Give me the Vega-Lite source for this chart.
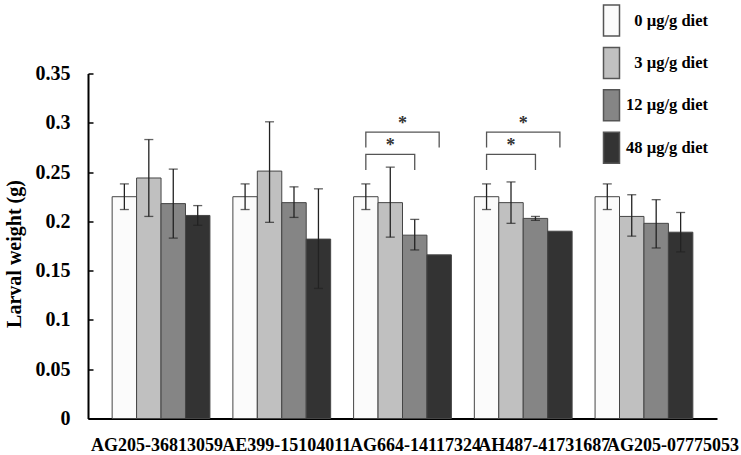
{
  "$schema": "https://vega.github.io/schema/vega-lite/v6.json",
  "width": 629,
  "height": 345,
  "autosize": {"type": "none"},
  "padding": {"left": 88, "top": 73.5, "right": 24, "bottom": 36.5},
  "background": "#ffffff",
  "config": {
    "view": {"stroke": null},
    "font": "Liberation Serif"
  },
  "datasets": {
    "bars": [
      {"gene": "AG205-36813059", "dose": "0 µg/g diet", "w": 0.225, "lo": 0.212, "hi": 0.238},
      {"gene": "AG205-36813059", "dose": "3 µg/g diet", "w": 0.244, "lo": 0.205, "hi": 0.283},
      {"gene": "AG205-36813059", "dose": "12 µg/g diet", "w": 0.218, "lo": 0.183, "hi": 0.253},
      {"gene": "AG205-36813059", "dose": "48 µg/g diet", "w": 0.206, "lo": 0.196, "hi": 0.216},
      {"gene": "AE399-15104011", "dose": "0 µg/g diet", "w": 0.225, "lo": 0.212, "hi": 0.238},
      {"gene": "AE399-15104011", "dose": "3 µg/g diet", "w": 0.251, "lo": 0.199, "hi": 0.301},
      {"gene": "AE399-15104011", "dose": "12 µg/g diet", "w": 0.219, "lo": 0.204, "hi": 0.235},
      {"gene": "AE399-15104011", "dose": "48 µg/g diet", "w": 0.182, "lo": 0.132, "hi": 0.233},
      {"gene": "AG664-14117324", "dose": "0 µg/g diet", "w": 0.225, "lo": 0.212, "hi": 0.238},
      {"gene": "AG664-14117324", "dose": "3 µg/g diet", "w": 0.219, "lo": 0.184, "hi": 0.255},
      {"gene": "AG664-14117324", "dose": "12 µg/g diet", "w": 0.186, "lo": 0.171, "hi": 0.202},
      {"gene": "AG664-14117324", "dose": "48 µg/g diet", "w": 0.166, "lo": null, "hi": null},
      {"gene": "AH487-41731687", "dose": "0 µg/g diet", "w": 0.225, "lo": 0.212, "hi": 0.238},
      {"gene": "AH487-41731687", "dose": "3 µg/g diet", "w": 0.219, "lo": 0.198, "hi": 0.240},
      {"gene": "AH487-41731687", "dose": "12 µg/g diet", "w": 0.203, "lo": 0.201, "hi": 0.205},
      {"gene": "AH487-41731687", "dose": "48 µg/g diet", "w": 0.190, "lo": null, "hi": null},
      {"gene": "AG205-07775053", "dose": "0 µg/g diet", "w": 0.225, "lo": 0.212, "hi": 0.238},
      {"gene": "AG205-07775053", "dose": "3 µg/g diet", "w": 0.205, "lo": 0.185, "hi": 0.227},
      {"gene": "AG205-07775053", "dose": "12 µg/g diet", "w": 0.198, "lo": 0.173, "hi": 0.222},
      {"gene": "AG205-07775053", "dose": "48 µg/g diet", "w": 0.189, "lo": 0.169, "hi": 0.209}
    ],
    "brackets": [
      {"b": "g3a", "gene": "AG664-14117324", "dose": "0 µg/g diet", "y": 0.252, "ord": 1},
      {"b": "g3a", "gene": "AG664-14117324", "dose": "0 µg/g diet", "y": 0.268, "ord": 2},
      {"b": "g3a", "gene": "AG664-14117324", "dose": "12 µg/g diet", "y": 0.268, "ord": 3},
      {"b": "g3a", "gene": "AG664-14117324", "dose": "12 µg/g diet", "y": 0.252, "ord": 4},
      {"b": "g3b", "gene": "AG664-14117324", "dose": "0 µg/g diet", "y": 0.275, "ord": 1},
      {"b": "g3b", "gene": "AG664-14117324", "dose": "0 µg/g diet", "y": 0.2905, "ord": 2},
      {"b": "g3b", "gene": "AG664-14117324", "dose": "48 µg/g diet", "y": 0.2905, "ord": 3},
      {"b": "g3b", "gene": "AG664-14117324", "dose": "48 µg/g diet", "y": 0.275, "ord": 4},
      {"b": "g4a", "gene": "AH487-41731687", "dose": "0 µg/g diet", "y": 0.252, "ord": 1},
      {"b": "g4a", "gene": "AH487-41731687", "dose": "0 µg/g diet", "y": 0.268, "ord": 2},
      {"b": "g4a", "gene": "AH487-41731687", "dose": "12 µg/g diet", "y": 0.268, "ord": 3},
      {"b": "g4a", "gene": "AH487-41731687", "dose": "12 µg/g diet", "y": 0.252, "ord": 4},
      {"b": "g4b", "gene": "AH487-41731687", "dose": "0 µg/g diet", "y": 0.275, "ord": 1},
      {"b": "g4b", "gene": "AH487-41731687", "dose": "0 µg/g diet", "y": 0.2905, "ord": 2},
      {"b": "g4b", "gene": "AH487-41731687", "dose": "48 µg/g diet", "y": 0.2905, "ord": 3},
      {"b": "g4b", "gene": "AH487-41731687", "dose": "48 µg/g diet", "y": 0.275, "ord": 4}
    ],
    "starsLow": [
      {"gene": "AG664-14117324", "dose": "3 µg/g diet", "y": 0.2785, "t": "*"},
      {"gene": "AH487-41731687", "dose": "3 µg/g diet", "y": 0.2785, "t": "*"}
    ],
    "starsHigh": [
      {"gene": "AG664-14117324", "y": 0.3008, "t": "*"},
      {"gene": "AH487-41731687", "y": 0.3008, "t": "*"}
    ]
  },
  "layer": [
    {
      "data": {"name": "bars"},
      "mark": {"type": "bar", "stroke": "#454545", "strokeWidth": 1},
      "encoding": {
        "x": {
          "field": "gene", "type": "nominal",
          "scale": {"domain": ["AG205-36813059", "AE399-15104011", "AG664-14117324", "AH487-41731687", "AG205-07775053"], "paddingInner": 0.19, "paddingOuter": 0.2},
          "axis": {
            "title": null,
            "ticks": false,
            "domainColor": "#000000",
            "domainWidth": 2,
            "labelFont": "Liberation Serif",
            "labelFontSize": 18,
            "labelFontWeight": "bold",
            "labelColor": "#000000",
            "labelAngle": 0,
            "labelPadding": 18,
            "labelLimit": 0,
            "labelOverlap": false,
            "labelBound": false,
            "labelFlush": false,
            "labelOffset": {
              "condition": [
                {"test": "datum.value == 'AG205-36813059'", "value": -4},
                {"test": "datum.value == 'AE399-15104011'", "value": 5},
                {"test": "datum.value == 'AG664-14117324'", "value": 13},
                {"test": "datum.value == 'AH487-41731687'", "value": 21}
              ],
              "value": 29
            }
          }
        },
        "xOffset": {
          "field": "dose", "type": "nominal",
          "scale": {"domain": ["0 µg/g diet", "3 µg/g diet", "12 µg/g diet", "48 µg/g diet"], "paddingInner": 0, "paddingOuter": 0}
        },
        "y": {
          "field": "w", "type": "quantitative",
          "scale": {"domain": [0, 0.35], "nice": false, "zero": true},
          "axis": {
            "title": "Larval weight (g)",
            "values": [0, 0.05, 0.1, 0.15, 0.2, 0.25, 0.3, 0.35],
            "format": ".2~f",
            "grid": false,
            "domainColor": "#000000",
            "domainWidth": 2,
            "tickColor": "#000000",
            "tickWidth": 1.5,
            "tickSize": -5,
            "labelFont": "Liberation Serif",
            "labelFontSize": 20,
            "labelFontWeight": "bold",
            "labelColor": "#000000",
            "labelPadding": 23,
            "titleFont": "Liberation Serif",
            "titleFontSize": 20,
            "titleFontWeight": "bold",
            "titleColor": "#000000",
            "titleAngle": -90,
            "titleAlign": "center",
            "titleBaseline": "alphabetic",
            "titleX": -68,
            "titleY": 180
          }
        },
        "fill": {
          "field": "dose", "type": "nominal",
          "scale": {"domain": ["0 µg/g diet", "3 µg/g diet", "12 µg/g diet", "48 µg/g diet"], "range": ["#fbfbfb", "#c0c0c0", "#858585", "#333333"]},
          "legend": {
            "orient": "none",
            "legendX": 507,
            "legendY": -69.5,
            "title": null,
            "padding": 0,
            "symbolType": "M-0.516,-1H0.516V1H-0.516Z",
            "symbolSize": 961,
            "symbolStrokeColor": "#555555",
            "symbolStrokeWidth": 1.5,
            "symbolOpacity": 1,
            "rowPadding": 5.4,
            "labelOffset": 80,
            "labelAlign": "right",
            "labelBaseline": "middle",
            "labelFont": "Liberation Serif",
            "labelFontSize": 16.5,
            "labelFontWeight": "bold",
            "labelColor": "#000000",
            "labelLimit": 0
          }
        }
      }
    },
    {
      "data": {"name": "bars"},
      "transform": [{"filter": "isValid(datum.lo)"}],
      "mark": {"type": "rule", "color": "#222222", "strokeWidth": 1.3},
      "encoding": {
        "x": {"field": "gene", "type": "nominal"},
        "xOffset": {"field": "dose", "type": "nominal"},
        "y": {"field": "lo", "type": "quantitative"},
        "y2": {"field": "hi"}
      }
    },
    {
      "data": {"name": "bars"},
      "transform": [
        {"filter": "isValid(datum.lo)"},
        {"fold": ["lo", "hi"], "as": ["end", "ev"]}
      ],
      "mark": {"type": "tick", "color": "#222222", "thickness": 1.3, "size": 9, "orient": "horizontal"},
      "encoding": {
        "x": {"field": "gene", "type": "nominal"},
        "xOffset": {"field": "dose", "type": "nominal"},
        "y": {"field": "ev", "type": "quantitative"}
      }
    },
    {
      "data": {"name": "brackets"},
      "mark": {"type": "line", "color": "#555555", "strokeWidth": 1.3},
      "encoding": {
        "x": {"field": "gene", "type": "nominal"},
        "xOffset": {"field": "dose", "type": "nominal"},
        "y": {"field": "y", "type": "quantitative"},
        "detail": {"field": "b"},
        "order": {"field": "ord"}
      }
    },
    {
      "data": {"name": "starsLow"},
      "mark": {"type": "text", "font": "Liberation Serif", "fontSize": 18, "fontWeight": "bold", "fill": "#333333", "baseline": "middle", "dy": 2},
      "encoding": {
        "x": {"field": "gene", "type": "nominal"},
        "xOffset": {"field": "dose", "type": "nominal"},
        "y": {"field": "y", "type": "quantitative"},
        "text": {"field": "t"},
        "color": {"value": "#333333"}
      }
    },
    {
      "data": {"name": "starsHigh"},
      "mark": {"type": "text", "font": "Liberation Serif", "fontSize": 18, "fontWeight": "bold", "fill": "#333333", "baseline": "middle", "dy": 2},
      "encoding": {
        "x": {"field": "gene", "type": "nominal"},
        "y": {"field": "y", "type": "quantitative"},
        "text": {"field": "t"},
        "color": {"value": "#333333"}
      }
    }
  ]
}
